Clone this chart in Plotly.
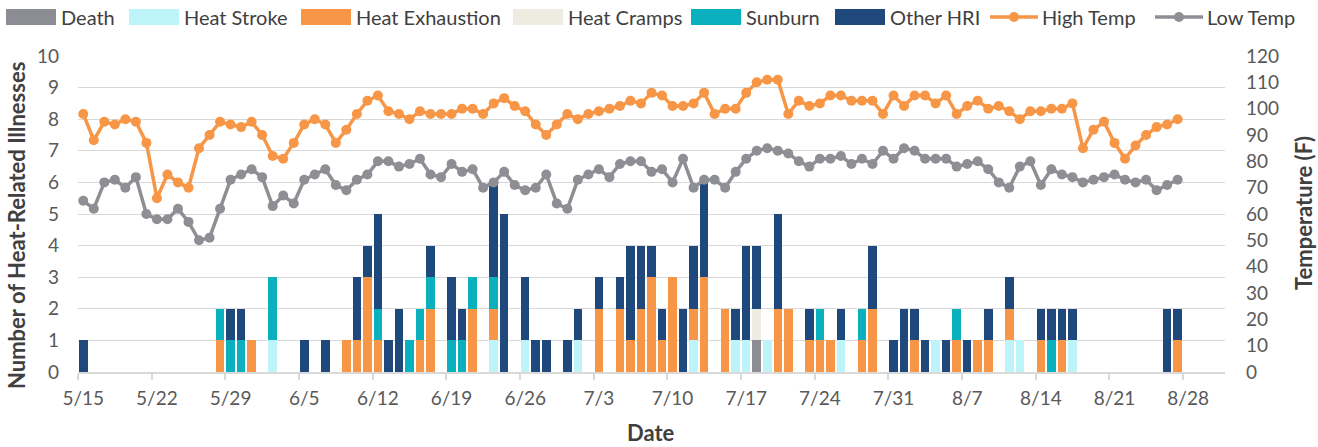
import pandas as pd
import plotly.graph_objects as go

# ---------------- data ----------------
START_DATE = "2017-05-15"
N_DAYS = 105  # 5/15 .. 8/27
DATES = pd.date_range(START_DATE, periods=N_DAYS, freq="D")

# daily counts, one row per week (5/15, 5/22, 5/29, ... 8/21)
DEATH = [
    0, 0, 0, 0, 0, 0, 0,
    0, 0, 0, 0, 0, 0, 0,
    0, 0, 0, 0, 0, 0, 0,
    0, 0, 0, 0, 0, 0, 0,
    0, 0, 0, 0, 0, 0, 0,
    0, 0, 0, 0, 0, 0, 0,
    0, 0, 0, 0, 0, 0, 0,
    0, 0, 0, 0, 0, 0, 0,
    0, 0, 0, 0, 0, 0, 0,
    0, 1, 0, 0, 0, 0, 0,
    0, 0, 0, 0, 0, 0, 0,
    0, 0, 0, 0, 0, 0, 0,
    0, 0, 0, 0, 0, 0, 0,
    0, 0, 0, 0, 0, 0, 0,
    0, 0, 0, 0, 0, 0, 0,
]
HEAT_STROKE = [
    0, 0, 0, 0, 0, 0, 0,
    0, 0, 0, 0, 0, 0, 0,
    0, 0, 0, 0, 1, 0, 0,
    0, 0, 0, 0, 0, 0, 0,
    0, 0, 0, 0, 0, 0, 0,
    0, 0, 0, 0, 1, 0, 0,
    1, 0, 0, 0, 0, 1, 0,
    0, 0, 0, 0, 0, 0, 0,
    0, 0, 1, 0, 0, 0, 1,
    1, 0, 1, 0, 0, 0, 0,
    0, 0, 1, 0, 0, 0, 0,
    0, 0, 0, 0, 1, 0, 0,
    0, 0, 0, 0, 1, 1, 0,
    0, 0, 0, 1, 0, 0, 0,
    0, 0, 0, 0, 0, 0, 0,
]
HEAT_EXHAUSTION = [
    0, 0, 0, 0, 0, 0, 0,
    0, 0, 0, 0, 0, 0, 1,
    0, 0, 1, 0, 0, 0, 0,
    0, 0, 0, 0, 1, 1, 3,
    1, 0, 0, 0, 1, 2, 0,
    0, 0, 2, 0, 1, 0, 0,
    0, 0, 0, 0, 0, 0, 0,
    2, 0, 2, 1, 2, 3, 1,
    3, 0, 1, 3, 0, 2, 0,
    0, 0, 0, 2, 2, 0, 1,
    1, 1, 0, 0, 1, 2, 0,
    0, 0, 1, 0, 0, 0, 1,
    0, 1, 1, 0, 1, 0, 0,
    1, 0, 1, 0, 0, 0, 0,
    0, 0, 0, 0, 0, 0, 1,
]
HEAT_CRAMPS = [
    0, 0, 0, 0, 0, 0, 0,
    0, 0, 0, 0, 0, 0, 0,
    0, 0, 0, 0, 0, 0, 0,
    0, 0, 0, 0, 0, 0, 0,
    0, 0, 0, 0, 0, 0, 0,
    0, 0, 0, 0, 0, 0, 0,
    0, 0, 0, 0, 0, 0, 0,
    0, 0, 0, 0, 0, 0, 0,
    0, 0, 0, 0, 0, 0, 0,
    0, 1, 0, 0, 0, 0, 0,
    0, 0, 0, 0, 0, 0, 0,
    0, 0, 0, 0, 0, 0, 0,
    0, 0, 0, 0, 0, 0, 0,
    0, 0, 0, 0, 0, 0, 0,
    0, 0, 0, 0, 0, 0, 0,
]
SUNBURN = [
    0, 0, 0, 0, 0, 0, 0,
    0, 0, 0, 0, 0, 0, 1,
    1, 1, 0, 0, 2, 0, 0,
    0, 0, 0, 0, 0, 0, 0,
    1, 0, 0, 1, 1, 1, 0,
    1, 1, 1, 0, 1, 0, 0,
    0, 0, 0, 0, 0, 0, 0,
    0, 0, 0, 0, 0, 0, 0,
    0, 0, 0, 0, 0, 0, 0,
    0, 0, 0, 0, 0, 0, 0,
    1, 0, 0, 0, 1, 0, 0,
    0, 0, 0, 0, 0, 0, 1,
    0, 0, 0, 0, 0, 0, 0,
    0, 1, 0, 0, 0, 0, 0,
    0, 0, 0, 0, 0, 0, 0,
]
OTHER_HRI = [
    1, 0, 0, 0, 0, 0, 0,
    0, 0, 0, 0, 0, 0, 0,
    1, 1, 0, 0, 0, 0, 0,
    1, 0, 1, 0, 0, 2, 1,
    3, 1, 2, 0, 0, 1, 0,
    2, 1, 0, 0, 3, 5, 0,
    2, 1, 1, 0, 1, 1, 0,
    1, 0, 1, 3, 2, 1, 1,
    0, 2, 2, 3, 0, 0, 1,
    3, 2, 0, 3, 0, 0, 1,
    0, 0, 1, 0, 0, 2, 0,
    1, 2, 1, 1, 0, 1, 0,
    1, 0, 1, 0, 1, 0, 0,
    1, 1, 1, 1, 0, 0, 0,
    0, 0, 0, 0, 0, 2, 1,
]
HIGH_TEMP = [
    98, 88, 95, 94, 96, 95, 87,
    66, 75, 72, 70, 85, 90, 95,
    94, 93, 95, 90, 82, 81, 87,
    94, 96, 94, 87, 92, 98, 103,
    105, 99, 98, 96, 99, 98, 98,
    98, 100, 100, 98, 102, 104, 101,
    99, 94, 90, 94, 98, 96, 98,
    99, 100, 101, 103, 102, 106, 105,
    101, 101, 102, 106, 98, 100, 100,
    106, 110, 111, 111, 98, 103, 101,
    102, 105, 105, 103, 103, 103, 98,
    105, 101, 105, 105, 102, 105, 98,
    101, 103, 100, 101, 99, 96, 99,
    99, 100, 100, 102, 85, 92, 95,
    87, 81, 86, 90, 93, 94, 96,
]
LOW_TEMP = [
    65, 62, 72, 73, 70, 74, 60,
    58, 58, 62, 57, 50, 51, 62,
    73, 75, 77, 74, 63, 67, 64,
    73, 75, 77, 71, 69, 73, 75,
    80, 80, 78, 79, 81, 75, 74,
    79, 76, 77, 70, 72, 76, 71,
    69, 70, 75, 64, 62, 73, 75,
    77, 74, 79, 80, 80, 76, 77,
    72, 81, 70, 73, 73, 70, 76,
    81, 84, 85, 84, 83, 80, 78,
    81, 81, 82, 79, 81, 79, 84,
    81, 85, 84, 81, 81, 81, 78,
    79, 80, 77, 72, 70, 78, 80,
    71, 77, 75, 74, 72, 73, 74,
    75, 73, 72, 73, 69, 71, 73,
]

BAR_SERIES = [
    ("Death", DEATH, "#8C8C94"),
    ("Heat Stroke", HEAT_STROKE, "#BDF4FA"),
    ("Heat Exhaustion", HEAT_EXHAUSTION, "#F79646"),
    ("Heat Cramps", HEAT_CRAMPS, "#EEECE1"),
    ("Sunburn", SUNBURN, "#0BB0BF"),
    ("Other HRI", OTHER_HRI, "#1F497D"),
]
LINE_SERIES = [
    ("High Temp", HIGH_TEMP, "#F79646"),
    ("Low Temp", LOW_TEMP, "#8E8E95"),
]

# ---------------- layout geometry (pixels) ----------------
W, H = 1318, 447
ML, MR, MT, MB = 78, 93, 56, 75
PW, PH = W - ML - MR, H - MT - MB
FONT = "Lato, 'Open Sans', sans-serif"
TXT = "#404040"
GRID = "#D9D9D9"


def px(x):
    return (x - ML) / PW


def py(y):
    return (H - MB - y) / PH


fig = go.Figure()
for name, vals, color in BAR_SERIES:
    fig.add_trace(go.Bar(x=DATES, y=vals, name=name, marker_color=color,
                         marker_line_width=0, yaxis="y"))
for name, vals, color in LINE_SERIES:
    fig.add_trace(go.Scatter(x=DATES, y=vals, name=name, mode="lines+markers",
                             yaxis="y2", line=dict(color=color, width=3.5),
                             marker=dict(color=color, size=10)))

half_day = pd.Timedelta(hours=12)
week_edges = [DATES[0] - half_day + pd.Timedelta(days=7 * k) for k in range(16)]

fig.update_layout(
    width=W, height=H,
    margin=dict(l=ML, r=MR, t=MT, b=MB),
    paper_bgcolor="white", plot_bgcolor="white",
    barmode="stack", bargap=0.19,
    showlegend=False,
    font=dict(family=FONT, color=TXT),
    xaxis=dict(
        type="date",
        range=[DATES[0] - half_day, pd.Timestamp("2017-08-31 12:00")],
        tickmode="linear", tick0=START_DATE, dtick=7 * 86400000,
        tickformat="%-m/%-d", ticks="", showgrid=False,
        showline=True, linecolor=GRID, linewidth=1.5,
        tickfont=dict(size=19, color="#595959", family=FONT),
        ticklabelstandoff=8,
        minor=dict(tickmode="array", tickvals=week_edges, ticks="outside",
                   ticklen=6, tickcolor=GRID, tickwidth=1.5, showgrid=False),
    ),
    yaxis=dict(
        range=[0, 10], tickmode="linear", tick0=0, dtick=1,
        showgrid=True, gridcolor=GRID, gridwidth=1.3, zeroline=False,
        ticks="", tickfont=dict(size=19, color="#595959", family=FONT),
        ticklabelstandoff=18,
    ),
    yaxis2=dict(
        range=[0, 120], tickmode="linear", tick0=0, dtick=10,
        overlaying="y", side="right", showgrid=False, zeroline=False,
        ticks="", tickfont=dict(size=19, color="#595959", family=FONT),
        ticklabelstandoff=20,
    ),
)

# axis titles
title_font = dict(family=FONT, size=22, color=TXT)
fig.add_annotation(text="<b>Number of Heat-Related Illnesses</b>", x=px(16), y=py(226),
                   xref="paper", yref="paper", textangle=-90, showarrow=False,
                   xanchor="center", yanchor="middle", font=title_font)
fig.add_annotation(text="<b>Temperature (F)</b>", x=px(1303), y=py(213),
                   xref="paper", yref="paper", textangle=-90, showarrow=False,
                   xanchor="center", yanchor="middle", font=title_font)
fig.add_annotation(text="<b>Date</b>", x=px(651), y=py(432),
                   xref="paper", yref="paper", showarrow=False,
                   xanchor="center", yanchor="middle", font=title_font)

# legend (drawn on the page above the plot)
LEG_Y, LEG_H = 17, 16
bar_legend_x = [6, 129, 301, 513, 691, 835]
for (name, _, color), x0 in zip(BAR_SERIES, bar_legend_x):
    fig.add_shape(type="rect", xref="paper", yref="paper",
                  x0=px(x0), x1=px(x0 + 50), y0=py(LEG_Y + LEG_H / 2), y1=py(LEG_Y - LEG_H / 2),
                  fillcolor=color, line=dict(width=0))
    fig.add_annotation(text=name, x=px(x0 + 53), y=py(LEG_Y), xref="paper", yref="paper",
                       showarrow=False, xanchor="left", yanchor="middle",
                       font=dict(family=FONT, size=20, color=TXT))
line_legend_x = [990, 1155]
for (name, _, color), x0 in zip(LINE_SERIES, line_legend_x):
    fig.add_shape(type="line", xref="paper", yref="paper",
                  x0=px(x0), x1=px(x0 + 48), y0=py(LEG_Y), y1=py(LEG_Y),
                  line=dict(color=color, width=3.5))
    fig.add_shape(type="circle", xref="paper", yref="paper",
                  x0=px(x0 + 19), x1=px(x0 + 29), y0=py(LEG_Y + 5), y1=py(LEG_Y - 5),
                  fillcolor=color, line=dict(width=0))
    fig.add_annotation(text=name, x=px(x0 + 50), y=py(LEG_Y), xref="paper", yref="paper",
                       showarrow=False, xanchor="left", yanchor="middle",
                       font=dict(family=FONT, size=20, color=TXT))

# remove the page's default body margin so the figure fills the window exactly
fig.write_html("out.html", config={"displayModeBar": False},
               post_script="document.body.style.margin='0';")
